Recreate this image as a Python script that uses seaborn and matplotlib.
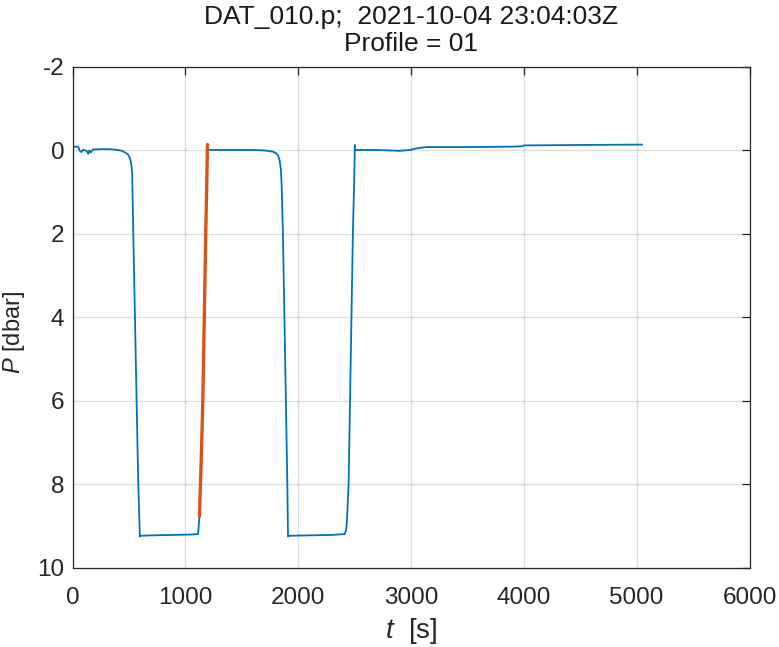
import numpy as np
import pandas as pd
import seaborn as sns
import matplotlib
matplotlib.use('Agg')
import matplotlib.pyplot as plt

# pressure record
t_blue = [0, 5, 50, 65, 80, 95, 110, 125, 140, 150, 161, 180, 250, 332, 400, 440,
          465, 480, 495, 505, 512, 520, 529, 538, 582, 597, 605, 700, 900, 1050,
          1113, 1125, 1140, 1155, 1168, 1181, 1190, 1196, 1200, 1208, 1400, 1600,
          1700, 1774, 1800, 1820, 1836, 1846, 1853, 1865, 1904, 1910, 1918, 2100,
          2300, 2412, 2425, 2432, 2447, 2485, 2495, 2503, 2506, 2700, 2900, 2987,
          3050, 3135, 3500, 3900, 3987, 4000, 4500, 5049]
P_blue = [-0.05, -0.08, -0.08, 0.02, 0.05, -0.01, 0.01, 0.02, 0.09, 0.01, 0.06,
          -0.01, -0.02, -0.02, 0.0, 0.02, 0.06, 0.08, 0.12, 0.17, 0.23, 0.32, 0.55,
          1.9, 7.9, 9.26, 9.24, 9.23, 9.22, 9.21, 9.2, 8.78, 7.5, 6.0, 4.0, 2.0,
          0.8, -0.12, 0.0, 0.0, 0.0, 0.0, 0.01, 0.04, 0.07, 0.12, 0.25, 0.45, 0.8,
          2.0, 8.0, 9.26, 9.24, 9.23, 9.22, 9.2, 9.1, 8.9, 8.0, 2.0, 0.9, -0.12,
          0.0, 0.0, 0.02, 0.0, -0.04, -0.07, -0.07, -0.08, -0.09, -0.11, -0.12, -0.13]

# selected profile section
t_prof = [1125, 1140, 1155, 1168, 1181, 1190, 1196]
P_prof = [8.78, 7.5, 6.0, 4.0, 2.0, 0.8, -0.13]

x_ticks = [0, 1000, 2000, 3000, 4000, 5000, 6000]
y_ticks = [-2, 0, 2, 4, 6, 8, 10]

sns.set_style('white')
plt.rcParams['font.family'] = ['Liberation Sans', 'DejaVu Sans']
plt.rcParams['mathtext.fontset'] = 'custom'
plt.rcParams['mathtext.it'] = 'Liberation Sans:italic'
plt.rcParams['mathtext.rm'] = 'Liberation Sans'
plt.rcParams['axes.unicode_minus'] = False

blue = pd.DataFrame({'t': t_blue, 'P': P_blue})
prof = pd.DataFrame({'t': t_prof, 'P': P_prof})

fig = plt.figure(figsize=(7.79, 6.47), dpi=100)
ax = fig.add_axes([72.5 / 779, 1 - 567.5 / 647, 677 / 779, 501 / 647])

sns.lineplot(data=blue, x='t', y='P', sort=False, estimator=None,
             color='#0072BD', lw=1.3, ax=ax)
sns.lineplot(data=prof, x='t', y='P', sort=False, estimator=None,
             color='#D95319', lw=2.4, ax=ax)

ax.set_xlim(0, 6000)
ax.set_ylim(10, -2)
ax.set_xticks(x_ticks)
ax.set_yticks(y_ticks)
ax.grid(True, color=(0.15, 0.15, 0.15), alpha=0.15, lw=1.0)
ax.tick_params(direction='in', length=6, width=0.9, colors='#262626',
               labelsize=17.5, top=True, right=True)
ax.tick_params(axis='x', pad=14)
ax.tick_params(axis='y', pad=6)
for s in ax.spines.values():
    s.set_color('#262626')
    s.set_linewidth(0.9)

ax.set_xlabel(r'$t$  [s]', fontsize=20, color='#262626', labelpad=5)
ax.set_ylabel(r'$P$ [dbar]', fontsize=17, color='#262626')
ax.yaxis.set_label_coords(-0.067, 0.47)
ax.set_title('DAT_010.p;  2021-10-04 23:04:03Z\nProfile = 01',
             fontsize=19, color='#1a1a1a', pad=11, linespacing=1.19)

fig.savefig('out.png', dpi=100)
